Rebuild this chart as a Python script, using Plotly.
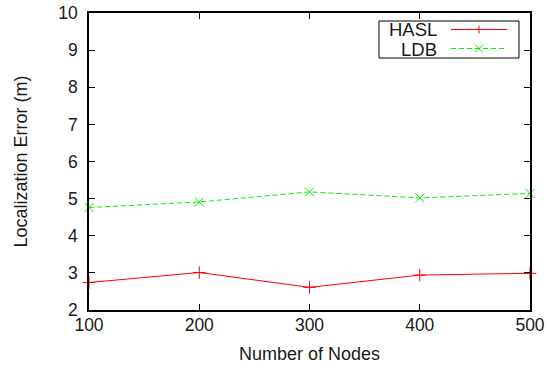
import plotly.graph_objects as go

nodes = [100, 200, 300, 400, 500]
hasl = [2.74, 3.01, 2.61, 2.94, 2.99]
ldb = [4.76, 4.91, 5.18, 5.02, 5.14]
series_names = ["HASL", "LDB"]

W, H = 548, 371
L, R, T, B = 89, 18, 13, 61
pw, ph = W - L - R, H - T - B

def px(x):
    return (x - L) / pw

def py(y):
    return (H - B - y) / ph

font = "Liberation Sans, Arial, Helvetica, sans-serif"
txt = "#1a1a1a"

fig = go.Figure()
fig.add_trace(go.Scatter(x=nodes, y=hasl, mode="lines+markers", name=series_names[0],
                         line=dict(color="#ff0000", width=1),
                         marker=dict(symbol="cross-thin", size=9, line=dict(color="#ff0000", width=1)),
                         showlegend=False, cliponaxis=False))
fig.add_trace(go.Scatter(x=nodes, y=ldb, mode="lines+markers", name=series_names[1],
                         line=dict(color="#00ee00", width=1, dash="5px,3px"),
                         marker=dict(symbol="x-thin", size=9, line=dict(color="#00ee00", width=1)),
                         showlegend=False, cliponaxis=False))

shapes = []
annotations = []
# custom legend box (gnuplot style: label then sample)
shapes.append(dict(type="rect", xref="paper", yref="paper",
                   x0=px(379), x1=px(519), y0=py(58), y1=py(21),
                   line=dict(color="black", width=1), fillcolor="white", layer="above"))
rows = [(29.5, "#ff0000", None, "cross-thin"), (48.5, "#00ee00", "5px,3px", "x-thin")]
for (yy, col, dash, sym), name in zip(rows, series_names):
    ln = dict(color=col, width=1)
    if dash:
        ln["dash"] = dash
    shapes.append(dict(type="line", xref="paper", yref="paper",
                       x0=px(451), x1=px(507), y0=py(yy), y1=py(yy), line=ln, layer="above"))
    annotations.append(dict(xref="paper", yref="paper", x=px(439), y=py(yy + 0.5), text=name,
                            showarrow=False, xanchor="right", yanchor="middle",
                            font=dict(family=font, size=18.5, color=txt)))
    m = 4
    cx = 479
    if sym == "cross-thin":
        shapes.append(dict(type="line", xref="paper", yref="paper", x0=px(cx), x1=px(cx),
                           y0=py(yy - m), y1=py(yy + m), line=dict(color=col, width=1), layer="above"))
    else:
        shapes.append(dict(type="line", xref="paper", yref="paper", x0=px(cx - m), x1=px(cx + m),
                           y0=py(yy - m), y1=py(yy + m), line=dict(color=col, width=1), layer="above"))
        shapes.append(dict(type="line", xref="paper", yref="paper", x0=px(cx - m), x1=px(cx + m),
                           y0=py(yy + m), y1=py(yy - m), line=dict(color=col, width=1), layer="above"))

axis_common = dict(showline=True, linecolor="black", linewidth=1.5, mirror="ticks",
                   ticks="inside", ticklen=6, tickcolor="black", tickwidth=1,
                   showgrid=False, zeroline=False, automargin=False,
                   tickfont=dict(family=font, size=17.5, color=txt))

fig.update_layout(
    width=W, height=H,
    margin=dict(l=L, r=R, t=T, b=B, autoexpand=False),
    paper_bgcolor="white", plot_bgcolor="white",
    xaxis=dict(range=[100, 500], tickvals=nodes, ticktext=[str(n) for n in nodes],
               ticklabelstandoff=-2,
               title=dict(text="Number of Nodes", font=dict(family=font, size=18, color=txt), standoff=14),
               **axis_common),
    yaxis=dict(range=[2, 10], dtick=1, ticklabelstandoff=6,
               title=dict(text="Localization Error (m)", font=dict(family=font, size=18, color=txt), standoff=26),
               **axis_common),
    shapes=shapes, annotations=annotations,
)

fig.write_html("out.html", config={"displayModeBar": False},
               post_script="document.body.style.margin='0';document.body.style.overflow='hidden';")
